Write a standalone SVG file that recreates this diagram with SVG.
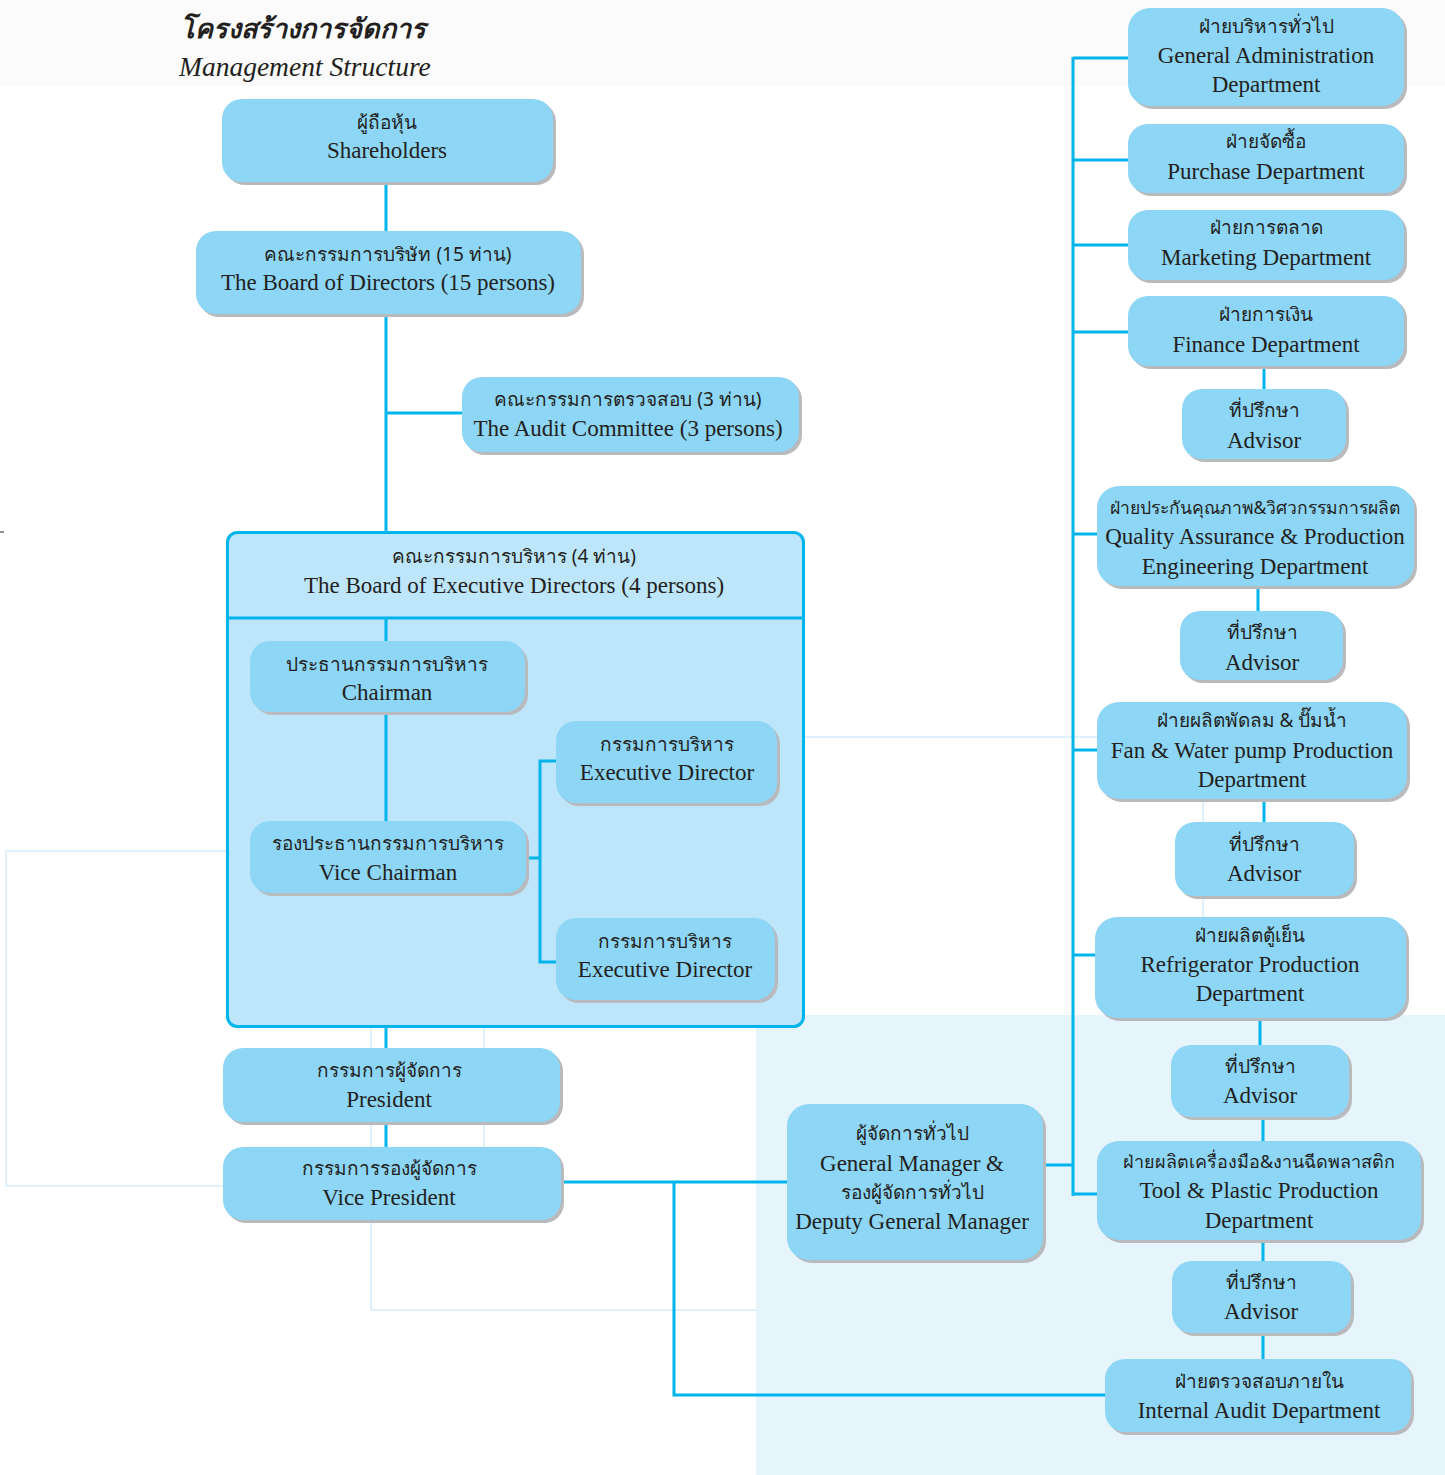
<svg xmlns="http://www.w3.org/2000/svg" width="1445" height="1475" viewBox="0 0 1445 1475">
<style>
.sh{fill:#b9babd}
.bx{fill:#8dd6f6}
.th{font-family:"Noto Sans","DejaVu Sans",sans-serif;font-size:19px;fill:#231f20;text-anchor:middle}
.en{font-family:"Liberation Serif","DejaVu Serif",serif;font-size:23px;fill:#231f20;text-anchor:middle}
.ln{stroke:#00b4ec;stroke-width:3;fill:none}
.fl{stroke:#d4edfb;stroke-width:1.5;fill:none}
</style>
<rect x="0" y="0" width="1445" height="1475" fill="#ffffff"/>
<rect x="0" y="0" width="1445" height="86" fill="#fbfbfb"/>
<rect x="756" y="1015" width="689" height="460" fill="#e6f4fc"/>
<line x1="0" y1="532" x2="4" y2="532" stroke="#231f20" stroke-width="1"/>

<g id="title">
<text x="180" y="38" font-family="'Noto Sans','DejaVu Sans',sans-serif" font-size="27" font-weight="bold" font-style="italic" fill="#231f20">โครงสร้างการจัดการ</text>
<text x="179" y="76" font-family="'Liberation Serif','DejaVu Serif',serif" font-size="27.5" font-style="italic" fill="#231f20">Management Structure</text>
</g>

<g id="faint-lines">
<polyline class="fl" points="228,851 6,851 6,1186 223,1186"/>
<line class="fl" x1="371" y1="1027" x2="371" y2="1310"/>
<line class="fl" x1="484" y1="1027" x2="484" y2="1147"/>
<line class="fl" x1="371" y1="1310" x2="756" y2="1310"/>
<line class="fl" x1="805" y1="737" x2="1100" y2="737"/>
<line class="fl" x1="1203" y1="799" x2="1203" y2="917"/>
</g>

<g id="exec-board">
<rect x="227.5" y="532.5" width="576" height="494" rx="10" fill="#bde6fa" stroke="#00b4ec" stroke-width="3"/>
<line x1="227.5" y1="618" x2="803.5" y2="618" stroke="#00b4ec" stroke-width="3"/>
<text class="th" x="514" y="563">คณะกรรมการบริหาร (4 ท่าน)</text>
<text class="en" x="514" y="593">The Board of Executive Directors (4 persons)</text>
</g>

<g id="connectors">
<line class="ln" x1="386" y1="182" x2="386" y2="232"/>
<line class="ln" x1="386" y1="314" x2="386" y2="532"/>
<line class="ln" x1="386" y1="413" x2="463" y2="413"/>
<line class="ln" x1="386" y1="618" x2="386" y2="642"/>
<line class="ln" x1="386" y1="712" x2="386" y2="822"/>
<polyline class="ln" points="526,858 540,858"/>
<polyline class="ln" points="556,761 540,761 540,962 556,962"/>
<line class="ln" x1="386" y1="1027" x2="386" y2="1049"/>
<line class="ln" x1="386" y1="1122" x2="386" y2="1148"/>
<line class="ln" x1="561" y1="1182" x2="788" y2="1182"/>
<polyline class="ln" points="674,1182 674,1395 1106,1395"/>
<line class="ln" x1="1043" y1="1165" x2="1073" y2="1165"/>
<line class="ln" x1="1073" y1="57" x2="1073" y2="1196"/>
<line class="ln" x1="1073" y1="58" x2="1129" y2="58"/>
<line class="ln" x1="1073" y1="160" x2="1129" y2="160"/>
<line class="ln" x1="1073" y1="245" x2="1129" y2="245"/>
<line class="ln" x1="1073" y1="332" x2="1129" y2="332"/>
<line class="ln" x1="1073" y1="534" x2="1098" y2="534"/>
<line class="ln" x1="1073" y1="750" x2="1098" y2="750"/>
<line class="ln" x1="1073" y1="955" x2="1096" y2="955"/>
<polyline class="ln" points="1073,1194 1098,1194"/>
<line class="ln" x1="1264" y1="366" x2="1264" y2="390"/>
<line class="ln" x1="1258" y1="586" x2="1258" y2="612"/>
<line class="ln" x1="1264" y1="799" x2="1264" y2="823"/>
<line class="ln" x1="1260" y1="1018" x2="1260" y2="1046"/>
<line class="ln" x1="1263" y1="1117" x2="1263" y2="1142"/>
<line class="ln" x1="1263" y1="1240" x2="1263" y2="1262"/>
<line class="ln" x1="1263" y1="1333" x2="1263" y2="1360"/>
</g>

<g id="shareholders">
<rect class="sh" x="225" y="102" width="331" height="83" rx="20"/>
<rect class="bx" x="222" y="99" width="331" height="83" rx="20"/>
<text class="th" x="387" y="129">ผู้ถือหุ้น</text>
<text class="en" x="387" y="158">Shareholders</text>
</g>

<g id="board-directors">
<rect class="sh" x="199" y="234" width="385" height="83" rx="20"/>
<rect class="bx" x="196" y="231" width="385" height="83" rx="20"/>
<text class="th" x="388" y="261">คณะกรรมการบริษัท (15 ท่าน)</text>
<text class="en" x="388" y="290">The Board of Directors (15 persons)</text>
</g>

<g id="audit-committee">
<rect class="sh" x="465" y="380" width="337" height="75" rx="20"/>
<rect class="bx" x="462" y="377" width="337" height="75" rx="20"/>
<text class="th" x="628" y="406">คณะกรรมการตรวจสอบ (3 ท่าน)</text>
<text class="en" x="628" y="436">The Audit Committee (3 persons)</text>
</g>

<g id="chairman">
<rect class="sh" x="253" y="644" width="275" height="71" rx="20"/>
<rect class="bx" x="250" y="641" width="275" height="71" rx="20"/>
<text class="th" x="387" y="671">ประธานกรรมการบริหาร</text>
<text class="en" x="387" y="700">Chairman</text>
</g>

<g id="vice-chairman">
<rect class="sh" x="253" y="824" width="276" height="72" rx="20"/>
<rect class="bx" x="250" y="821" width="276" height="72" rx="20"/>
<text class="th" x="388" y="850">รองประธานกรรมการบริหาร</text>
<text class="en" x="388" y="880">Vice Chairman</text>
</g>

<g id="exec-director-1">
<rect class="sh" x="559" y="724" width="221" height="82" rx="20"/>
<rect class="bx" x="556" y="721" width="221" height="82" rx="20"/>
<text class="th" x="667" y="751">กรรมการบริหาร</text>
<text class="en" x="667" y="780">Executive Director</text>
</g>

<g id="exec-director-2">
<rect class="sh" x="559" y="921" width="219" height="82" rx="20"/>
<rect class="bx" x="556" y="918" width="219" height="82" rx="20"/>
<text class="th" x="665" y="948">กรรมการบริหาร</text>
<text class="en" x="665" y="977">Executive Director</text>
</g>

<g id="president">
<rect class="sh" x="226" y="1051" width="337" height="74" rx="20"/>
<rect class="bx" x="223" y="1048" width="337" height="74" rx="20"/>
<text class="th" x="389" y="1077">กรรมการผู้จัดการ</text>
<text class="en" x="389" y="1107">President</text>
</g>

<g id="vice-president">
<rect class="sh" x="226" y="1150" width="338" height="73" rx="20"/>
<rect class="bx" x="223" y="1147" width="338" height="73" rx="20"/>
<text class="th" x="389" y="1175">กรรมการรองผู้จัดการ</text>
<text class="en" x="389" y="1205">Vice President</text>
</g>

<g id="general-manager">
<rect class="sh" x="790" y="1107" width="256" height="156" rx="22"/>
<rect class="bx" x="787" y="1104" width="256" height="156" rx="22"/>
<text class="th" x="912" y="1140">ผู้จัดการทั่วไป</text>
<text class="en" x="912" y="1171">General Manager &amp;</text>
<text class="th" x="912" y="1199">รองผู้จัดการทั่วไป</text>
<text class="en" x="912" y="1229">Deputy General Manager</text>
</g>

<g id="general-admin">
<rect class="sh" x="1131" y="11" width="276" height="98" rx="22"/>
<rect class="bx" x="1128" y="8" width="276" height="98" rx="22"/>
<text class="th" x="1266" y="33">ฝ่ายบริหารทั่วไป</text>
<text class="en" x="1266" y="63">General Administration</text>
<text class="en" x="1266" y="92">Department</text>
</g>

<g id="purchase">
<rect class="sh" x="1131" y="127" width="276" height="69" rx="20"/>
<rect class="bx" x="1128" y="124" width="276" height="69" rx="20"/>
<text class="th" x="1266" y="148">ฝ่ายจัดซื้อ</text>
<text class="en" x="1266" y="179">Purchase Department</text>
</g>

<g id="marketing">
<rect class="sh" x="1131" y="213" width="276" height="70" rx="20"/>
<rect class="bx" x="1128" y="210" width="276" height="70" rx="20"/>
<text class="th" x="1266" y="234">ฝ่ายการตลาด</text>
<text class="en" x="1266" y="265">Marketing Department</text>
</g>

<g id="finance">
<rect class="sh" x="1131" y="299" width="276" height="70" rx="20"/>
<rect class="bx" x="1128" y="296" width="276" height="70" rx="20"/>
<text class="th" x="1266" y="321">ฝ่ายการเงิน</text>
<text class="en" x="1266" y="352">Finance Department</text>
</g>

<g id="advisor-1">
<rect class="sh" x="1185" y="392" width="164" height="70" rx="20"/>
<rect class="bx" x="1182" y="389" width="164" height="70" rx="20"/>
<text class="th" x="1264" y="417">ที่ปรึกษา</text>
<text class="en" x="1264" y="448">Advisor</text>
</g>

<g id="quality-assurance">
<rect class="sh" x="1100" y="489" width="317" height="100" rx="22"/>
<rect class="bx" x="1097" y="486" width="317" height="100" rx="22"/>
<text class="th" x="1255" y="514" style="font-size:17.5px">ฝ่ายประกันคุณภาพ&amp;วิศวกรรมการผลิต</text>
<text class="en" x="1255" y="544">Quality Assurance &amp; Production</text>
<text class="en" x="1255" y="574">Engineering Department</text>
</g>

<g id="advisor-2">
<rect class="sh" x="1183" y="614" width="163" height="69" rx="20"/>
<rect class="bx" x="1180" y="611" width="163" height="69" rx="20"/>
<text class="th" x="1262" y="639">ที่ปรึกษา</text>
<text class="en" x="1262" y="670">Advisor</text>
</g>

<g id="fan-water-pump">
<rect class="sh" x="1100" y="705" width="310" height="97" rx="22"/>
<rect class="bx" x="1097" y="702" width="310" height="97" rx="22"/>
<text class="th" x="1252" y="727">ฝ่ายผลิตพัดลม &amp; ปั๊มน้ำ</text>
<text class="en" x="1252" y="758">Fan &amp; Water pump Production</text>
<text class="en" x="1252" y="787">Department</text>
</g>

<g id="advisor-3">
<rect class="sh" x="1178" y="825" width="179" height="74" rx="20"/>
<rect class="bx" x="1175" y="822" width="179" height="74" rx="20"/>
<text class="th" x="1264" y="851">ที่ปรึกษา</text>
<text class="en" x="1264" y="881">Advisor</text>
</g>

<g id="refrigerator">
<rect class="sh" x="1098" y="920" width="311" height="101" rx="22"/>
<rect class="bx" x="1095" y="917" width="311" height="101" rx="22"/>
<text class="th" x="1250" y="942">ฝ่ายผลิตตู้เย็น</text>
<text class="en" x="1250" y="972">Refrigerator Production</text>
<text class="en" x="1250" y="1001">Department</text>
</g>

<g id="advisor-4">
<rect class="sh" x="1174" y="1048" width="178" height="72" rx="20"/>
<rect class="bx" x="1171" y="1045" width="178" height="72" rx="20"/>
<text class="th" x="1260" y="1073">ที่ปรึกษา</text>
<text class="en" x="1260" y="1103">Advisor</text>
</g>

<g id="tool-plastic">
<rect class="sh" x="1100" y="1144" width="324" height="99" rx="22"/>
<rect class="bx" x="1097" y="1141" width="324" height="99" rx="22"/>
<text class="th" x="1259" y="1168" style="font-size:18px">ฝ่ายผลิตเครื่องมือ&amp;งานฉีดพลาสติก</text>
<text class="en" x="1259" y="1198">Tool &amp; Plastic Production</text>
<text class="en" x="1259" y="1228">Department</text>
</g>

<g id="advisor-5">
<rect class="sh" x="1175" y="1264" width="179" height="72" rx="20"/>
<rect class="bx" x="1172" y="1261" width="179" height="72" rx="20"/>
<text class="th" x="1261" y="1289">ที่ปรึกษา</text>
<text class="en" x="1261" y="1319">Advisor</text>
</g>

<g id="internal-audit">
<rect class="sh" x="1108" y="1362" width="306" height="73" rx="20"/>
<rect class="bx" x="1105" y="1359" width="306" height="73" rx="20"/>
<text class="th" x="1259" y="1388">ฝ่ายตรวจสอบภายใน</text>
<text class="en" x="1259" y="1418">Internal Audit Department</text>
</g>
</svg>
